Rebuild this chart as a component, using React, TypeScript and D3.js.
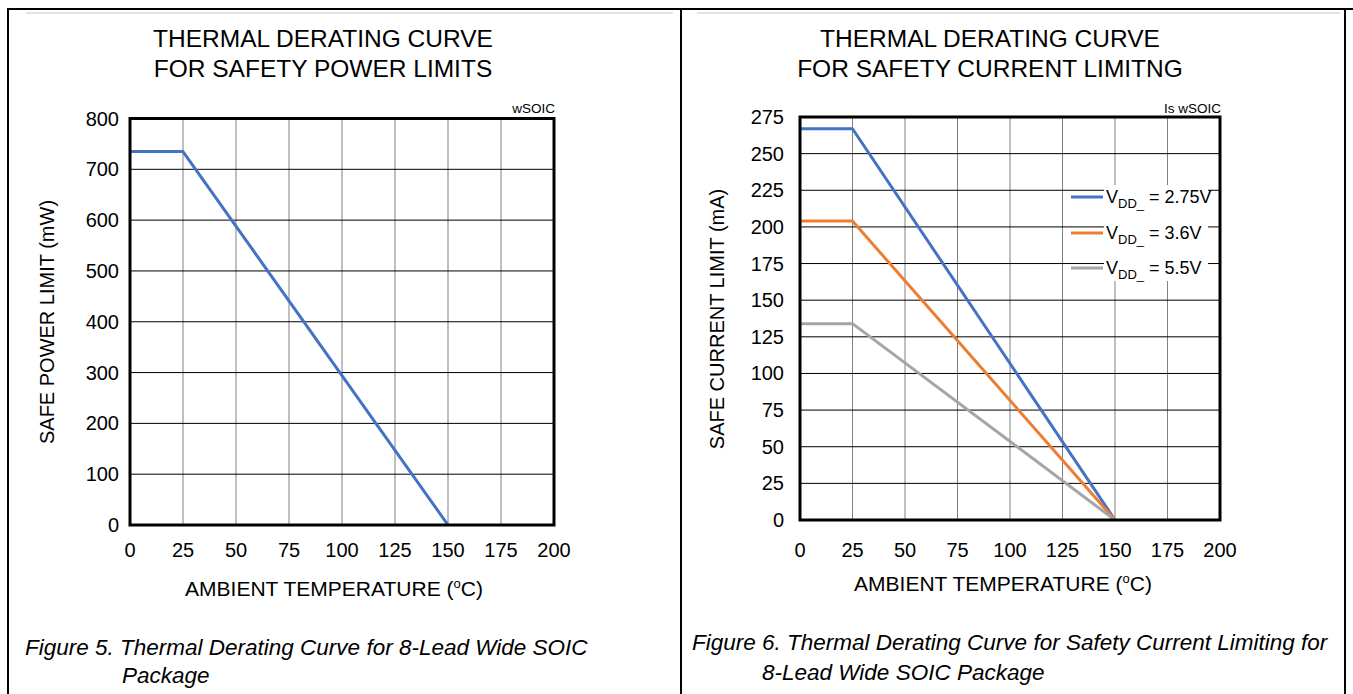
import React from "react";
import * as d3 from "d3";

// Axis ticks
const tempTicks = [0, 25, 50, 75, 100, 125, 150, 175, 200];
const powerTicks = [0, 100, 200, 300, 400, 500, 600, 700, 800];
const currentTicks = [0, 25, 50, 75, 100, 125, 150, 175, 200, 225, 250, 275];

// Safety power limit vs ambient temperature (wSOIC)
const powerTemps = [0, 25, 150];
const powerValues = [735, 735, 0];

// Safety current limit vs ambient temperature, one series per supply voltage
const currentTemps = [0, 25, 150];
const currentVdd275 = [267, 267, 0];
const currentVdd36 = [204, 204, 0];
const currentVdd55 = [134, 134, 0];
const supplyLabels = ["2.75V", "3.6V", "5.5V"];
const supplyColors = ["#4472C4", "#ED7D31", "#A5A5A5"];

const FONT = "'Liberation Sans', Arial, Helvetica, sans-serif";

type Series = { temps: number[]; values: number[]; color: string };

type PanelProps = {
  x0: number;
  x1: number;
  yTop: number;
  yBottom: number;
  yTicks: number[];
  yMax: number;
  yLabelRight: number;
  yTitle: string;
  yTitleX: number;
  yTitleY: number;
  title: string[];
  titleX: number;
  xTitleX: number;
  xTitleY: number;
  tag: string;
  series: Series[];
};

function Panel(p: PanelProps) {
  const x = d3.scaleLinear().domain([0, 200]).range([p.x0, p.x1]);
  const y = d3.scaleLinear().domain([0, p.yMax]).range([p.yBottom, p.yTop]);
  const line = d3
    .line<[number, number]>()
    .x((d) => x(d[0]))
    .y((d) => y(d[1]));
  return (
    <g fontFamily={FONT} fill="#000">
      {p.title.map((t, i) => (
        <text key={t} x={p.titleX} y={46.5 + i * 30} fontSize={24.5} textAnchor="middle">
          {t}
        </text>
      ))}
      <text x={p.x1 + 1} y={113} fontSize={13.5} textAnchor="end">
        {p.tag}
      </text>
      {/* grid */}
      {tempTicks.slice(1, -1).map((t) => (
        <line key={"v" + t} x1={x(t)} x2={x(t)} y1={p.yTop} y2={p.yBottom} stroke="#808080" strokeWidth={1} />
      ))}
      {p.yTicks.slice(1, -1).map((t) => (
        <line key={"h" + t} x1={p.x0} x2={p.x1} y1={y(t)} y2={y(t)} stroke="#000" strokeWidth={1} />
      ))}
      {p.series.map((s, i) => (
        <path
          key={i}
          d={line(s.temps.map((t, j) => [t, s.values[j]] as [number, number])) || ""}
          fill="none"
          stroke={s.color}
          strokeWidth={3}
          strokeLinejoin="round"
        />
      ))}
      <rect x={p.x0} y={p.yTop} width={p.x1 - p.x0} height={p.yBottom - p.yTop} fill="none" stroke="#000" strokeWidth={3} />
      {/* tick labels */}
      {p.yTicks.map((t) => (
        <text key={"yl" + t} x={p.yLabelRight} y={y(t)} dy="0.35em" fontSize={20} textAnchor="end">
          {t}
        </text>
      ))}
      {tempTicks.map((t) => (
        <text key={"xl" + t} x={x(t)} y={557} fontSize={20} textAnchor="middle">
          {t}
        </text>
      ))}
      <text x={p.xTitleX} y={p.xTitleY} fontSize={21} textAnchor="middle">
        AMBIENT TEMPERATURE (
        <tspan fontSize={13} dy={-8}>o</tspan>
        <tspan dy={8}>C)</tspan>
      </text>
      <text
        transform={`translate(${p.yTitleX},${p.yTitleY}) rotate(-90)`}
        fontSize={20}
        textAnchor="middle"
      >
        {p.yTitle}
      </text>
    </g>
  );
}

export default function App() {
  const powerSeries: Series[] = [{ temps: powerTemps, values: powerValues, color: supplyColors[0] }];
  const currentSeries: Series[] = [currentVdd275, currentVdd36, currentVdd55].map((v, i) => ({
    temps: currentTemps,
    values: v,
    color: supplyColors[i],
  }));
  const legendY = [197, 233, 268];
  return (
    <div style={{ position: "absolute", left: 0, top: 0 }}>
      <svg width={1353} height={694} style={{ display: "block", background: "#fff" }}>
        <rect x={0} y={0} width={1353} height={694} fill="#fff" />
        {/* table frame */}
        <line x1={8} x2={1353} y1={9} y2={9} stroke="#000" strokeWidth={2} />
        <line x1={8} x2={8} y1={8} y2={694} stroke="#000" strokeWidth={2} />
        <line x1={681} x2={681} y1={8} y2={694} stroke="#000" strokeWidth={2} />
        <line x1={1345} x2={1345} y1={8} y2={694} stroke="#000" strokeWidth={2} />
        <line x1={26} x2={673} y1={13} y2={13} stroke="#c8c8c8" strokeWidth={1} />
        <line x1={697} x2={1340} y1={13} y2={13} stroke="#c8c8c8" strokeWidth={1} />

        <Panel
          x0={130}
          x1={554}
          yTop={118.5}
          yBottom={525}
          yTicks={powerTicks}
          yMax={800}
          yLabelRight={119}
          yTitle="SAFE POWER LIMIT (mW)"
          yTitleX={54}
          yTitleY={322}
          title={["THERMAL DERATING CURVE", "FOR SAFETY POWER LIMITS"]}
          titleX={323}
          xTitleX={334}
          xTitleY={596}
          tag="wSOIC"
          series={powerSeries}
        />
        <Panel
          x0={800}
          x1={1220}
          yTop={117}
          yBottom={520}
          yTicks={currentTicks}
          yMax={275}
          yLabelRight={784}
          yTitle="SAFE CURRENT LIMIT (mA)"
          yTitleX={724}
          yTitleY={319}
          title={["THERMAL DERATING CURVE", "FOR SAFETY CURRENT LIMITNG"]}
          titleX={990}
          xTitleX={1003}
          xTitleY={591}
          tag="Is wSOIC"
          series={currentSeries}
        />

        {/* legend */}
        <g fontFamily={FONT}>
          <rect x={1104} y={185} width={104} height={96} fill="#fff" />
          {supplyLabels.map((lab, i) => (
            <g key={lab}>
              <line x1={1071} x2={1103} y1={legendY[i]} y2={legendY[i]} stroke={supplyColors[i]} strokeWidth={3} />
              <text x={1106} y={legendY[i] + 6} fontSize={18}>
                V<tspan fontSize={13} dy={5}>DD_</tspan>
                <tspan dy={-5}> = {lab}</tspan>
              </text>
            </g>
          ))}
        </g>

        {/* captions */}
        <g fontFamily={FONT} fontStyle="italic" fontSize={22.5}>
          <text x={25} y={655}>Figure 5. Thermal Derating Curve for 8-Lead Wide SOIC</text>
          <text x={122} y={683}>Package</text>
          <text x={692} y={650}>Figure 6. Thermal Derating Curve for Safety Current Limiting for</text>
          <text x={762} y={680}>8-Lead Wide SOIC Package</text>
        </g>
      </svg>
    </div>
  );
}
